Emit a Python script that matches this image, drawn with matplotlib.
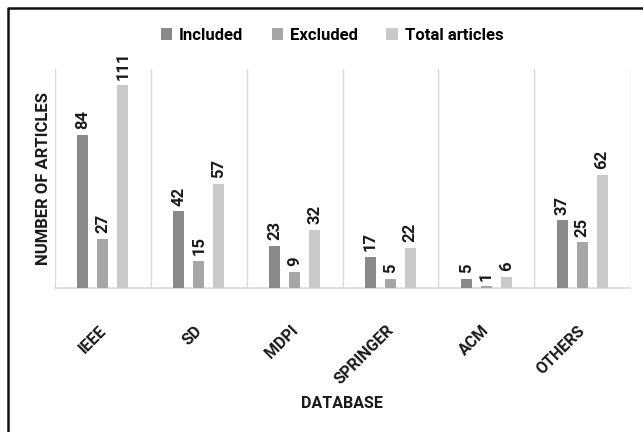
import matplotlib
matplotlib.use("Agg")
import matplotlib.pyplot as plt
from matplotlib.lines import Line2D
import matplotlib.transforms as mtrans
import numpy as np

plt.rcParams['font.family'] = ['Roboto', 'DejaVu Sans']
plt.rcParams['font.weight'] = 'bold'

databases = ["IEEE", "SD", "MDPI", "SPRINGER", "ACM", "OTHERS"]
included = [84, 42, 23, 17, 5, 37]
excluded = [27, 15, 9, 5, 1, 25]
total = [111, 57, 32, 22, 6, 62]
series_names = ["Included", "Excluded", "Total articles"]
colors = ["#898989", "#a6a6a6", "#c9c9c9"]

W, H = 643, 432
fig = plt.figure(figsize=(W / 100, H / 100), dpi=100)
ax = fig.add_axes([55 / W, 1 - 288 / H, (630 - 55) / W, (288 - 69) / H])

x = np.arange(len(databases))
step = 0.208
width = 0.115
bars = []
for i, (vals, name, c) in enumerate(zip([included, excluded, total], series_names, colors)):
    b = ax.bar(x + (i - 1) * step, vals, width, color=c, label=name, zorder=3)
    bars.append(b)
    for rect, v in zip(b, vals):
        ax.annotate(str(v), (rect.get_x() + rect.get_width() / 2, rect.get_height()),
                    xytext=(0, 4), textcoords='offset points', rotation=90,
                    ha='center', va='bottom', fontsize=12, fontweight='bold', color='#1a1a1a')

ax.set_xlim(-0.5, len(databases) - 0.5)
ax.set_ylim(0, 120)
for b in np.arange(-0.5, len(databases), 1.0):
    ax.axvline(b, color='#d9d9d9', lw=1.0, zorder=1)
for s in ['top', 'right', 'left']:
    ax.spines[s].set_visible(False)
ax.spines['bottom'].set_color('#d9d9d9')
ax.spines['bottom'].set_linewidth(1.2)
ax.set_yticks([])
ax.set_xticks(x)
ax.set_xticklabels(databases, rotation=45, ha='right', va='top', fontsize=11.5,
                   fontweight='bold', color='#1a1a1a')
ax.tick_params(axis='x', length=0, pad=25)
for lab in ax.get_xticklabels():
    lab.set_transform(lab.get_transform() + mtrans.ScaledTranslation(6 / 100, 0, fig.dpi_scale_trans))

ax.set_ylabel("NUMBER OF ARTICLES", fontsize=12, fontweight='bold', color='#1a1a1a', labelpad=3)
fig.text(342 / W, 1 - 403 / H, "DATABASE", ha='center', va='center', fontsize=11.5,
         fontweight='bold', color='#1a1a1a')

fig.legend(handles=bars, labels=series_names, loc='center', bbox_to_anchor=(332 / W, 1 - 35 / H),
           ncol=3, frameon=False, handlelength=0.7, handleheight=0.7,
           handletextpad=0.4, columnspacing=1.7, prop={'weight': 'bold', 'size': 12})

# figure border (top and left edges)
fig.add_artist(Line2D([8 / W, 8 / W, 1.0], [0.0, 1 - 7.5 / H, 1 - 7.5 / H],
                      transform=fig.transFigure, color='#111111', lw=1.8))

fig.savefig("out.png", dpi=100)
